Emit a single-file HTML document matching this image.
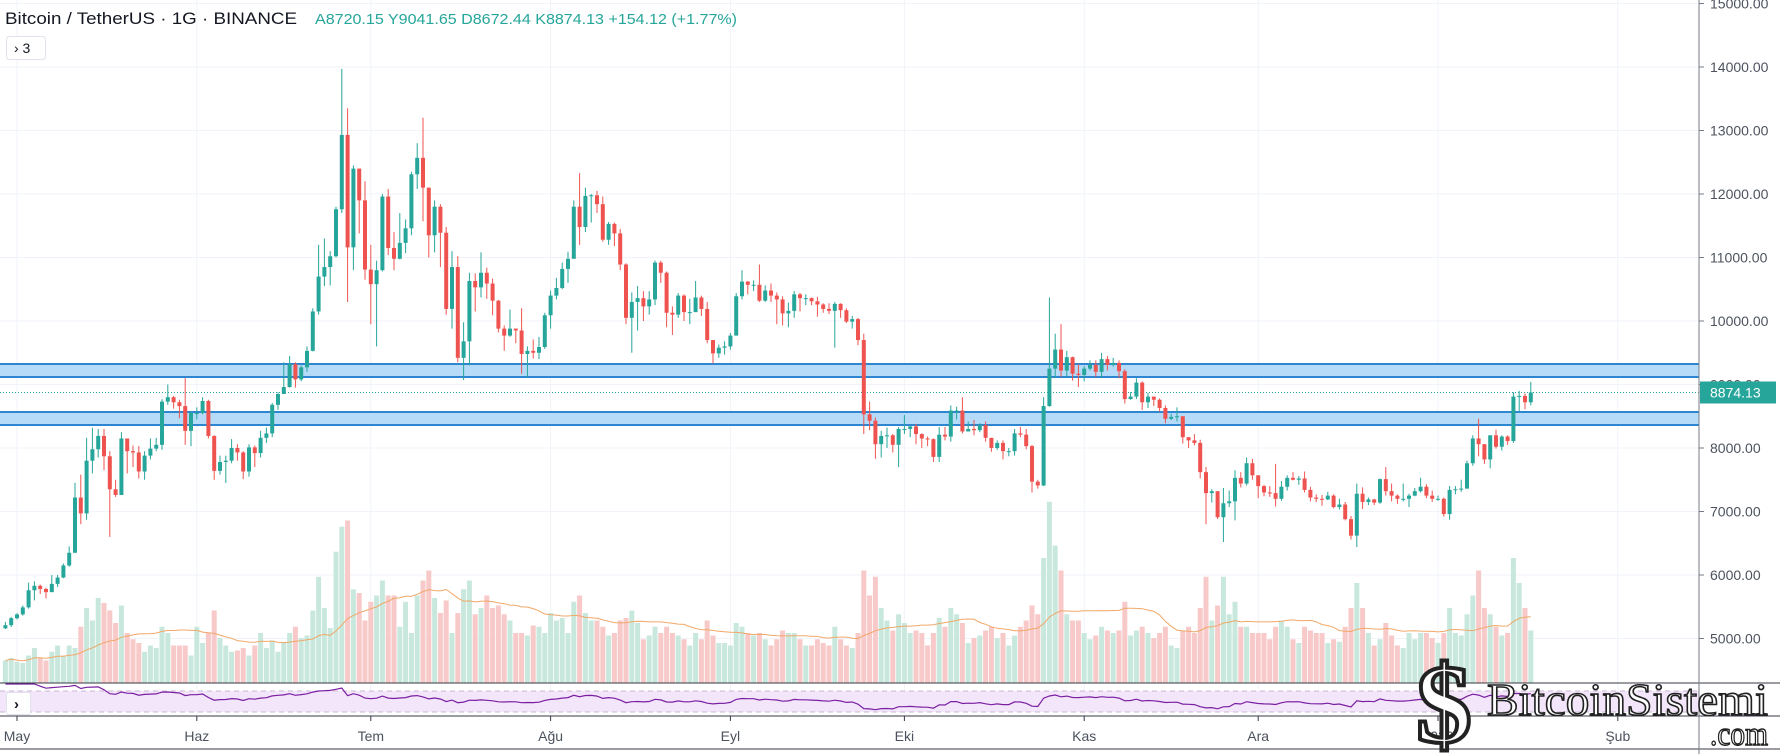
<!DOCTYPE html>
<html><head><meta charset="utf-8"><title>BTCUSDT chart</title>
<style>
html,body{margin:0;padding:0;background:#fff;}
body{width:1780px;height:754px;overflow:hidden;position:relative;font-family:"Liberation Sans",sans-serif;}
svg{position:absolute;left:0;top:0;}
</style></head>
<body>
<svg id="chart" width="1780" height="754" viewBox="0 0 1780 754" xmlns="http://www.w3.org/2000/svg">
  <rect x="0" y="0" width="1780" height="754" fill="#ffffff"/>
  <g id="grid"></g>
  <g id="zones"></g>
  <g id="vol"></g>
  <g id="candles"></g>
  <g id="rsi"></g>
  <g id="axes"></g>
  <text x="5" y="24" font-size="17" fill="#131722" textLength="292" lengthAdjust="spacingAndGlyphs">Bitcoin / TetherUS · 1G · BINANCE</text>
  <text x="315" y="24" font-size="15" fill="#26a69a" textLength="422" lengthAdjust="spacingAndGlyphs">A8720.15  Y9041.65  D8672.44  K8874.13  +154.12 (+1.77%)</text>
  <g>
    <rect x="6.5" y="36.5" width="39" height="23" rx="3" fill="#fff" stroke="#e0e3eb"/>
    <text x="14" y="53" font-size="14" fill="#131722">›  3</text>
  </g>
  <g>
    <rect x="6.5" y="692.5" width="24" height="22" rx="2" fill="#fff" stroke="#e0e3eb"/>
    <text x="14" y="709" font-size="15" fill="#131722" font-weight="bold">›</text>
  </g>
  <g>
    <text x="1416" y="742" font-family="Liberation Serif, serif" font-weight="bold" font-size="112" fill="#ffffff" stroke="#222" stroke-width="4">$</text>
    <text x="1487" y="715" font-family="Liberation Serif, serif" font-size="46" fill="#ffffff" stroke="#222" stroke-width="1.6" textLength="281" lengthAdjust="spacingAndGlyphs">BitcoinSistemi</text>
    <text x="1710" y="745" font-family="Liberation Serif, serif" font-size="34" fill="#ffffff" stroke="#222" stroke-width="1.4" textLength="58" lengthAdjust="spacingAndGlyphs">.com</text>
  </g>
</svg>
<script>
// ---- data (daily, starting 2019-04-29) ----
const startOffsetDays = -2;
const firstOpen = 5160;
const closes = [5210,5320,
5380,5490,5760,5830,5780,5730,5860,5960,6150,6350,7220,6970,7800,7980,8190,7870,7350,7260,8150,7950,7930,7630,7880,7990,8050,8730,8800,8720,8660,8270,8550,
8550,8740,8190,7640,7780,7800,8000,7930,7630,8010,7920,8160,8230,8680,8850,8960,9320,9080,9270,9530,10150,10700,10850,11020,11760,12930,11160,12400,11900,10810,
10580,10800,11960,11150,10980,11230,11460,12310,12570,12100,11350,11800,11390,10190,10850,9420,9680,10630,10530,10760,10590,10320,9880,9770,9880,9850,9480,9530,9500,9590,10090,
10400,10520,10820,10980,11800,11480,11970,11980,11840,11280,11530,11380,10890,10050,10300,10360,10230,10340,10920,10760,10130,10100,10400,10140,10140,10370,10190,9700,9490,9580,9600,
9770,10390,10620,10570,10570,10320,10480,10400,10340,10120,10160,10420,10360,10360,10310,10260,10190,10160,10270,10170,9990,10030,9700,8530,8430,8060,8190,8200,8050,8300,
8300,8340,8220,8150,8140,7860,8210,8180,8590,8590,8260,8300,8280,8360,8160,8000,8080,7950,7950,8230,8210,8030,7470,7410,8660,9250,9550,9220,9430,9170,9150,
9250,9310,9200,9400,9310,9340,9210,8770,8810,9030,8720,8810,8760,8630,8460,8490,8500,8170,8120,8080,7620,7290,7320,6910,7130,7160,7530,7440,7760,7570,
7400,7300,7290,7200,7390,7530,7500,7520,7340,7220,7200,7190,7250,7070,7110,6880,6620,7280,7150,7190,7140,7510,7320,7250,7200,7200,7250,7320,7390,7250,7200,
7200,6960,7340,7350,7360,7760,8150,8060,7820,8200,8020,8180,8110,8810,8820,8720,8874.13];
const highs = [5260,5340,
5400,5520,5880,5900,5850,5800,6000,6000,6180,6450,7450,7580,8160,8320,8300,8300,7950,7500,8250,8100,8040,8030,7950,8150,8160,8770,9000,8820,8760,9100,8580,
8640,8800,8760,8200,7880,7880,8140,8060,7950,8060,8040,8270,8320,8710,8880,9350,9450,9350,9300,9600,10200,11200,11300,11100,11800,13970,13350,12450,12400,12200,
11200,10950,12000,12080,11400,11700,11600,12350,12800,13200,12100,11900,11840,11480,11100,11020,9980,10760,10750,11080,10840,10670,10330,9930,10180,9880,10200,9600,9710,9750,10130,
10480,10680,10920,11090,11900,12330,12100,12000,12050,11960,11560,11550,11450,10910,10450,10550,10470,10470,10950,10950,10780,10230,10440,10420,10350,10630,10400,10300,9700,9630,9680,
9810,10440,10800,10630,10640,10890,10560,10590,10450,10390,10290,10470,10440,10420,10370,10380,10280,10280,10300,10280,10200,10080,10050,9800,8730,8480,8270,8320,8220,8330,
8520,8350,8380,8230,8180,8150,8330,8330,8670,8650,8800,8420,8440,8390,8420,8160,8120,8120,8000,8300,8330,8300,8050,7500,8800,10370,9800,9950,9530,9440,9320,
9290,9380,9380,9500,9450,9420,9380,9240,8880,9100,9050,8870,8800,8780,8670,8540,8640,8500,8170,8220,8130,7700,7350,7320,7370,7330,7650,7620,7850,7830,
7570,7420,7400,7750,7480,7570,7620,7560,7630,7390,7270,7260,7310,7270,7200,7150,6930,7440,7380,7220,7200,7520,7700,7440,7270,7440,7280,7370,7530,7430,7330,
7250,7220,7400,7400,7500,7800,8200,8460,8060,8200,8290,8200,8200,8880,8900,8860,9041.65];
const lows = [5150,5180,
5300,5360,5470,5600,5700,5630,5730,5810,5950,6130,6350,6800,6870,7600,7850,7650,6600,7230,7260,7600,7700,7520,7500,7820,7950,7970,8680,8620,8470,8050,8030,
8450,8530,8150,7500,7580,7450,7760,7800,7510,7550,7700,7850,8080,8170,8600,8850,8950,8950,9050,9200,9520,10100,10550,10560,11000,11700,10300,10800,11380,10650,
9950,9600,10780,11040,10800,10970,11070,11350,12080,11570,11000,11080,10850,10100,9880,9350,9070,9300,10150,10370,10350,10090,9820,9530,9750,9650,9170,9110,9410,9400,9560,
9880,10340,10500,10600,10980,11200,11400,11550,11700,11250,11200,11180,10800,9950,9500,9850,10000,10100,10250,10600,9900,9780,10050,10000,9950,10140,10080,9650,9330,9420,9470,
9550,9770,10340,10420,10470,10300,10300,10300,9950,9930,9900,10050,10150,10250,10250,10070,10130,10110,9580,10050,9970,9880,9620,8220,8280,7830,7850,8000,7930,7700,
8220,8170,8060,8000,8030,7780,7780,8120,8100,8450,8230,8260,8200,8250,8100,7940,7970,7820,7870,7880,8170,7980,7300,7360,7400,8650,9100,9120,9120,9060,8960,
9050,9220,9120,9100,9220,9280,9100,8700,8760,8770,8600,8630,8660,8570,8390,8440,8420,8070,8000,8040,7520,6800,7140,6880,6520,7070,6860,7380,7410,7500,
7210,7240,7230,7080,7170,7330,7490,7420,7300,7160,7150,7090,7180,7050,7030,6860,6560,6440,7040,7100,7100,7120,7250,7160,7120,7160,7070,7240,7300,7210,7150,
7170,6920,6870,7270,7310,7360,7720,7870,7750,7680,7990,7960,8050,8080,8580,8610,8672.44];
const volumes = [18,20,
17,16,22,28,20,18,25,30,22,30,28,45,60,50,68,64,58,48,62,40,35,32,25,30,28,45,40,30,30,30,22,
45,32,40,58,36,30,25,26,28,22,30,40,28,34,25,33,40,45,36,38,58,85,60,44,105,125,130,75,72,50,
65,70,82,70,70,45,65,40,70,82,90,68,56,66,40,56,75,82,55,60,70,60,62,55,50,40,40,38,46,45,40,
56,50,52,40,65,70,56,50,50,45,38,40,50,52,58,48,35,38,45,40,45,40,38,35,30,40,35,50,38,32,32,
30,48,45,40,38,40,35,30,35,42,40,40,35,30,30,35,32,30,45,35,30,28,40,90,70,85,60,50,42,55,
48,40,42,40,30,40,52,45,60,55,48,32,36,38,42,45,36,40,30,38,45,50,62,55,100,145,110,90,55,50,50,
40,35,38,45,42,40,42,65,38,42,45,40,36,40,45,30,28,42,45,40,60,85,50,62,85,55,65,45,45,40,
40,40,35,45,50,45,35,32,45,42,40,40,32,35,33,45,60,80,60,40,30,35,48,38,30,28,40,35,40,40,36,
32,40,60,40,38,55,70,90,60,55,45,38,40,100,80,60,42];
const priceTicks = [5000,6000,7000,8000,9000,10000,11000,12000,13000,14000,15000];
const monthLabels = ['May','Haz','Tem','Ağu','Eyl','Eki','Kas','Ara','2020','Şub'];
const monthDayOffsets = [0,31,61,92,123,153,184,214,245,276];
const zoneTops = [9323,8567];
const zoneBottoms = [9118,8362];
const lastPrice = 8874.13;

// ---- scales ----
const NS='http://www.w3.org/2000/svg';
const PLOT_RIGHT=1699;
function xScale(d){return 17+5.8*d;}
function yScale(p){return 321+(10000-p)*0.0635;}
function vScale(v){return 683-v*1.25;}
function mk(tag,attrs,parent){const e=document.createElementNS(NS,tag);for(const k in attrs)e.setAttribute(k,attrs[k]);parent.appendChild(e);return e;}

const grid=document.getElementById('grid');
priceTicks.forEach(p=>{
  const l=mk('line',{x1:0,x2:PLOT_RIGHT,y1:yScale(p),y2:yScale(p),stroke:'#f0f3fa','stroke-width':1},grid);
  
  
});
monthDayOffsets.forEach(d=>{
  const l=mk('line',{x1:xScale(d),x2:xScale(d),y1:0,y2:716,stroke:'#f0f3fa','stroke-width':1},grid);
  
  
});

// zones
const zones=document.getElementById('zones');
zoneTops.forEach((t,i)=>{
  const b=zoneBottoms[i];
  const r=mk('rect',{x:0,y:yScale(t),width:PLOT_RIGHT,height:yScale(b)-yScale(t),fill:'#b5dbf8',stroke:'none'},zones);
  
  
  [t,b].forEach(v=>{
    const l=mk('line',{x1:0,x2:PLOT_RIGHT,y1:yScale(v),y2:yScale(v),stroke:'#2d86cf','stroke-width':2},zones);
    
    
  });
});

// volume
const vol=document.getElementById('vol');
const opens=closes.map((c,i)=>i===0?firstOpen:closes[i-1]);
volumes.forEach((v,i)=>{
  const x=xScale(i+startOffsetDays);
  const up=closes[i]>=opens[i];
  const r=mk('rect',{x:x-2.5,y:vScale(v),width:5,height:683-vScale(v),fill:up?'#c9e8dd':'#f8c9c9'},vol);
  
  
});
let maPts=[];
volumes.forEach((v,i)=>{
  const s=volumes.slice(Math.max(0,i-19),i+1);
  const m=s.reduce((a,b)=>a+b,0)/s.length;
  maPts.push(xScale(i+startOffsetDays).toFixed(1)+','+vScale(m).toFixed(1));
});
const ma=mk('polyline',{points:maPts.join(' '),fill:'none',stroke:'#f0a868','stroke-width':1},vol);



// last price dotted line
const axes=document.getElementById('axes');
const lp=mk('line',{x1:0,x2:PLOT_RIGHT,y1:yScale(lastPrice),y2:yScale(lastPrice),stroke:'#26a69a','stroke-width':1,'stroke-dasharray':'1,2'},grid);



// candles
const cg=document.getElementById('candles');
closes.forEach((c,i)=>{
  const o=opens[i],h=highs[i],l=lows[i];
  const x=xScale(i+startOffsetDays);
  const col=c>=o?'#26a69a':'#ef5350';
  const w=mk('line',{x1:x,x2:x,y1:yScale(h),y2:yScale(l),stroke:col,'stroke-width':1},cg);
  
  
  const top=yScale(Math.max(o,c)),bot=yScale(Math.min(o,c));
  const b=mk('rect',{x:x-2,y:top,width:4,height:Math.max(1,bot-top),fill:col},cg);
  
  
});

// rsi panel
const rg=document.getElementById('rsi');
const bg=mk('rect',{x:0,y:691,width:PLOT_RIGHT,height:21,fill:'#f3e6fa'},rg);


[691,712].forEach(yy=>{
  const l=mk('line',{x1:0,x2:PLOT_RIGHT,y1:yy,y2:yy,stroke:'#c9b6d4','stroke-width':1,'stroke-dasharray':'5,4'},rg);
  
  
});
let ag=0,al=0,rsiPts=[];
closes.forEach((c,i)=>{
  const ch=c-opens[i];
  const g=Math.max(ch,0),ls=Math.max(-ch,0);
  if(i<14){ag+=g/14;al+=ls/14;}else{ag=(ag*13+g)/14;al=(al*13+ls)/14;}
  const rsi=al===0?100:100-100/(1+ag/al);
  rsiPts.push(xScale(i+startOffsetDays).toFixed(1)+','+(716-rsi*0.32).toFixed(1));
});
const rl=mk('polyline',{points:rsiPts.join(' '),fill:'none',stroke:'#7b1fa2','stroke-width':1.2},rg);



// axes
[[0,683,1780,683],[0,716,1780,716],[0,749,1780,749]].forEach(a=>{
  const l=mk('line',{x1:a[0],y1:a[1],x2:a[2],y2:a[3],stroke:'#363a45','stroke-width':1},axes);
  
  
});
const ax=mk('line',{x1:PLOT_RIGHT,x2:PLOT_RIGHT,y1:0,y2:754,stroke:'#787b86','stroke-width':1},axes);


priceTicks.forEach(p=>{
  const t=mk('text',{x:1710,y:yScale(p)+5,'font-size':14,fill:'#4c525e'},axes);
  t.textContent=p.toFixed(2);
  
  
  const tk=mk('line',{x1:PLOT_RIGHT,x2:PLOT_RIGHT+5,y1:yScale(p),y2:yScale(p),stroke:'#787b86'},axes);
  
  
});
monthLabels.forEach((m,i)=>{
  const x=xScale(monthDayOffsets[i]);
  const t=mk('text',{x:x,y:741,'font-size':14,fill:'#4c525e','text-anchor':'middle'},axes);
  t.textContent=m;
  
  
  const tk=mk('line',{x1:x,x2:x,y1:716,y2:721,stroke:'#363a45'},axes);
  
  
});
const lbg=mk('rect',{x:1700,y:yScale(lastPrice)-11,width:76,height:22,fill:'#26a69a'},axes);


const lt=mk('text',{x:1710,y:yScale(lastPrice)+5,'font-size':14,fill:'#ffffff'},axes);
lt.textContent=lastPrice.toFixed(2);


</script>
</body></html>
